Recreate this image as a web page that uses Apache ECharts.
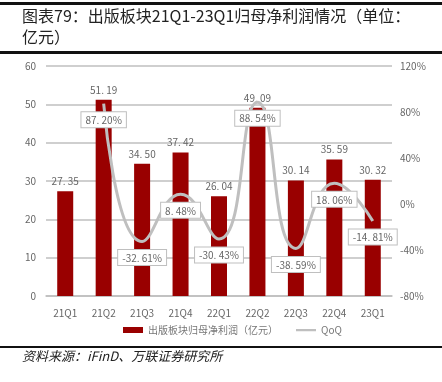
<!DOCTYPE html>
<html>
<head>
<meta charset="utf-8">
<script src="https://cdn.jsdelivr.net/npm/echarts@6/dist/echarts.min.js"></script>
<style>
  html, body { margin: 0; padding: 0; background: #fff; }
  #main { width: 442px; height: 382px; }
</style>
</head>
<body>
<div id="main"></div>
<script>
const categories = ['21Q1', '21Q2', '21Q3', '21Q4', '22Q1', '22Q2', '22Q3', '22Q4', '23Q1'];
const profit = [27.35, 51.19, 34.50, 37.42, 26.04, 49.09, 30.14, 35.59, 30.32];
const qoq = [null, 87.20, -32.61, 8.48, -30.43, 88.54, -38.59, 18.06, -14.81];
const leftTicks = { min: 0, max: 60, interval: 10 };
const rightTicks = { min: -80, max: 120, interval: 40 };

const cjk = '"Noto Sans CJK SC", sans-serif';
const myChart = echarts.init(document.getElementById('main'));

const option = {
  backgroundColor: '#fff',
  animation: false,
  textStyle: { fontFamily: cjk },
  graphic: [
    { type: 'rect', shape: { x: 0, y: 2, width: 442, height: 3 }, style: { fill: '#111' } },
    { type: 'text', left: 22, top: 8, style: { text: '图表79：出版板块21Q1-23Q1归母净利润情况（单位：', font: '16px ' + cjk, fill: '#222' } },
    { type: 'text', left: 22, top: 29, style: { text: '亿元）', font: '16px ' + cjk, fill: '#222' } },
    { type: 'rect', shape: { x: 0, y: 51, width: 442, height: 3 }, style: { fill: '#111' } },
    { type: 'rect', shape: { x: 0, y: 346, width: 442, height: 2 }, style: { fill: '#111' } },
    { type: 'text', left: 22, top: 350, style: { text: '资料来源：iFinD、万联证券研究所', font: 'italic 13px ' + cjk, fill: '#222' } }
  ],
  grid: { left: 46, right: 50, top: 66, bottom: 86 },
  legend: {
    left: 118,
    top: 320,
    itemGap: 18,
    textStyle: { color: '#777', fontSize: 10 },
    data: [
      { name: '出版板块归母净利润（亿元）', icon: 'rect', itemStyle: { color: '#990000' } },
      { name: 'QoQ', icon: 'path://M0,0h0.01v0.01h-0.01zM0,2h20v2.2h-20zM0,5.99h0.01v0.01h-0.01z', itemStyle: { color: '#bfbfbf', opacity: 1 } }
    ],
    itemWidth: 20,
    itemHeight: 6
  },
  xAxis: {
    type: 'category',
    data: categories,
    axisLine: { lineStyle: { color: '#bfbfbf', width: 1.5 } },
    axisTick: { show: false },
    axisLabel: { color: '#666', fontSize: 10, margin: 12 }
  },
  yAxis: [
    {
      type: 'value',
      min: leftTicks.min, max: leftTicks.max, interval: leftTicks.interval,
      axisLine: { show: false },
      axisTick: { show: false },
      axisLabel: { color: '#666', fontSize: 10, margin: 10 },
      splitLine: { lineStyle: { color: '#bfbfbf', width: 1.5 } }
    },
    {
      type: 'value',
      min: rightTicks.min, max: rightTicks.max, interval: rightTicks.interval,
      axisLine: { show: false },
      axisTick: { show: false },
      axisLabel: { color: '#666', fontSize: 10, margin: 8, formatter: '{value}%' },
      splitLine: { show: false }
    }
  ],
  series: [
    {
      name: '出版板块归母净利润（亿元）',
      type: 'bar',
      data: profit,
      barWidth: 16,
      itemStyle: { color: '#990000' },
      label: {
        show: true,
        position: 'top',
        distance: 5,
        color: '#666',
        fontSize: 10,
        formatter: p => p.value.toFixed(2).replace('.', '. ')
      }
    },
    {
      name: 'QoQ',
      type: 'line',
      yAxisIndex: 1,
      data: qoq,
      smooth: true,
      symbol: 'circle',
      symbolSize: 1,
      showSymbol: true,
      lineStyle: { color: '#bfbfbf', width: 3 },
      itemStyle: { color: 'rgba(191,191,191,0)' },
      label: {
        show: true,
        position: 'bottom',
        distance: 8,
        color: '#666',
        fontSize: 10,
        backgroundColor: '#fff',
        borderColor: '#bfbfbf',
        borderWidth: 1,
        padding: [3, 4, 2, 4],
        formatter: p => p.value.toFixed(2).replace('.', '. ') + '%'
      },
      z: 3
    }
  ]
};

myChart.setOption(option, true);
</script>
</body>
</html>
